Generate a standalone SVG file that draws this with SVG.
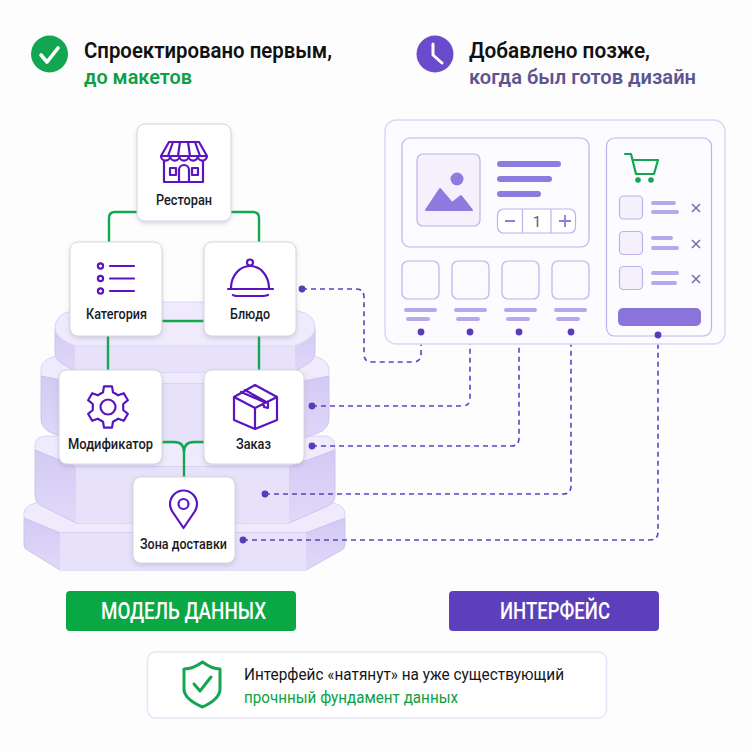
<svg xmlns="http://www.w3.org/2000/svg" width="751" height="751" viewBox="0 0 751 751">
<style>
text{font-family:"Roboto","Liberation Sans",sans-serif}
.card{fill:#fff;stroke:#d6d5dc;stroke-width:1;filter:url(#sh)}
.lbl{font-size:15px;font-weight:500;fill:#1a1a1f}
.ic{fill:none;stroke:#5a14c0;stroke-width:2.2;stroke-linejoin:round;stroke-linecap:round}
.gl{fill:none;stroke:#11a850;stroke-width:2.4}
.dl{fill:none;stroke:#5f3fc4;stroke-width:1.6;stroke-dasharray:5 4}
.dot{fill:#5a3ab8}
.top{fill:#efebfc;stroke:#dbd5f5;stroke-width:1}
.front{fill:#e7e2fa}
.side{fill:url(#sd);stroke:#cdc4f1;stroke-width:1}
.ui{fill:#fbfafe;stroke:#bdb2ec;stroke-width:1.200}
.bar{fill:#8f7be0}
.bar2{fill:#b5a8ec}
.x{fill:none;stroke:#7a70a8;stroke-width:1.600}
</style>
<defs>
<filter id="sh" x="-20%" y="-20%" width="140%" height="140%"><feDropShadow dx="0" dy="2" stdDeviation="2" flood-color="#7a70a8" flood-opacity=".28"/></filter>
<linearGradient id="sd" x1="0" y1="0" x2="0" y2="1"><stop offset="0" stop-color="#d3caf4"/><stop offset="1" stop-color="#e0d9f8"/></linearGradient>
</defs>
<rect width="751" height="751" fill="#fdfdfe"/>

<g id="stack">
<path class="top" d="M24 513 Q24 508 30 505 L60 494 H310 L339 505 Q345 508 345 513 V518 L306 533 H60 L24 518Z"/>
<path class="side" d="M24 518 L60 533 H306 L345 518 V545 Q345 549 340 551 L306 570 H60 L29 551 Q24 549 24 545Z"/>
<rect class="front" x="60" y="533" width="246" height="37"/>
<path class="top" d="M35 450 V445 Q35 438 44 436 H326 Q335 438 335 445 V450 L289 467 H76Z"/>
<path class="side" d="M35 450 L76 467 H289 L335 450 V495 Q335 503 328 506 L289 523 H76 L42 506 Q35 503 35 495Z"/>
<rect class="front" x="76" y="467" width="213" height="56"/>
<path class="top" d="M41 376 V370 Q41 362 50 358 L62 354 H308 L320 358 Q329 362 329 370 V376 L290 384 H80Z"/>
<path class="side" d="M41 376 L80 384 H290 L329 376 V418 Q329 429 318 433 L290 443 H80 L52 433 Q41 429 41 418Z"/>
<rect class="front" x="80" y="384" width="210" height="59"/>
<path class="side" d="M55 328 V352 Q55 360 63 364 L76 372 H294 L307 364 Q315 360 315 352 V328Z"/>
<rect class="front" x="75" y="346" width="220" height="26"/>
<path class="top" d="M55 328 Q55 314 72 311 L92 302 H278 L298 311 Q315 314 315 328 Q315 338 295 346 H75 Q55 338 55 328Z"/>
</g>

<g id="connectors">
<path class="gl" d="M137 212 H115 Q109 212 109 218 V242"/>
<path class="gl" d="M231 212 H253 Q259 212 259 218 V242"/>
<path class="gl" d="M162 321 H204"/>
<path class="gl" d="M108 336 V370"/>
<path class="gl" d="M259 336 V370"/>
<path class="gl" d="M162 442 H174 Q184 442 184 452 V477"/>
<path class="gl" d="M204 442 H194 Q184 442 184 452"/>
<path class="dl" d="M302 289 H356 Q364 289 364 297 V354 Q364 362 372 362 H413 Q421 362 421 354 V332"/>
<path class="dl" d="M312 406 H462 Q470 406 470 398 V332"/>
<path class="dl" d="M312 446 H511 Q519 446 519 438 V332"/>
<path class="dl" d="M265 494 H563 Q571 494 571 486 V332"/>
<path class="dl" d="M243 540 H650 Q658 540 658 532 V335"/>
<circle class="dot" cx="302" cy="289" r="3.400"/>
<circle class="dot" cx="312" cy="406" r="3.400"/>
<circle class="dot" cx="312" cy="446" r="3.400"/>
<circle class="dot" cx="265" cy="494" r="3.400"/>
<circle class="dot" cx="243" cy="540" r="3.400"/>
</g>

<g id="legend-model">
<circle cx="49.500" cy="54" r="18.500" fill="#12a651"/>
<path d="M41 55 L47 62 L58 48" fill="none" stroke="#fff" stroke-width="3.600" stroke-linecap="round" stroke-linejoin="round"/>
<text x="84" y="58" font-size="22" font-weight="600" fill="#111" textLength="248" lengthAdjust="spacingAndGlyphs">Спроектировано первым,</text>
<text x="84" y="84" font-size="21" font-weight="600" fill="#0ca043" textLength="108" lengthAdjust="spacingAndGlyphs">до макетов</text>
</g>
<g id="legend-ui">
<circle cx="435" cy="54" r="18.500" fill="#6a4bcb"/>
<path d="M433 44 V55 L442 63" fill="none" stroke="#fff" stroke-width="3" stroke-linecap="round" stroke-linejoin="round"/>
<text x="469" y="58" font-size="22" font-weight="600" fill="#111" textLength="181" lengthAdjust="spacingAndGlyphs">Добавлено позже,</text>
<text x="469" y="84" font-size="21" font-weight="600" fill="#5e5590" textLength="227" lengthAdjust="spacingAndGlyphs">когда был готов дизайн</text>
</g>

<g id="node-restaurant">
<rect class="card" x="137" y="124" width="94" height="97" rx="8"/>
<path class="ic" d="M169 142 H199 L207 156 H161Z M173 142 L168 156 M180 142 L178 156 M188 142 L190 156 M195 142 L200 156 M161 156 a4.600 4.600 0 0 0 9.200 0 a4.600 4.600 0 0 0 9.200 0 a4.600 4.600 0 0 0 9.200 0 a4.600 4.600 0 0 0 9.200 0 a4.600 4.600 0 0 0 9.200 0"/>
<path class="ic" d="M164 161 V182 H203 V161 M179 182 V170 a5 5 0 0 1 10 0 V182"/>
<rect class="ic" x="170" y="168" width="6" height="7"/><rect class="ic" x="192" y="168" width="6" height="7"/>
<text class="lbl" x="156" y="205" textLength="56" lengthAdjust="spacingAndGlyphs">Ресторан</text>
</g>
<g id="node-category">
<rect class="card" x="70" y="242" width="92" height="94" rx="8"/>
<circle class="ic" cx="100.500" cy="266" r="2.600"/><circle class="ic" cx="100.500" cy="278.500" r="2.600"/><circle class="ic" cx="100.500" cy="291" r="2.600"/>
<path class="ic" d="M110 266 H134 M110 278.500 H134 M110 291 H134"/>
<text class="lbl" x="86" y="319" textLength="61" lengthAdjust="spacingAndGlyphs">Категория</text>
</g>
<g id="node-dish">
<rect class="card" x="204" y="242" width="92" height="94" rx="8"/>
<circle class="ic" cx="250" cy="262.500" r="3"/>
<path class="ic" d="M231 288 a19 22 0 0 1 38 0 M228 289 H273 M233 295 Q234 296 238 296 H262 Q266 296 268 295"/>
<text class="lbl" x="230" y="319" textLength="40" lengthAdjust="spacingAndGlyphs">Блюдо</text>
</g>
<g id="node-modifier">
<rect class="card" x="59" y="370" width="103" height="94" rx="8"/>
<circle class="ic" cx="108" cy="407" r="7.500"/>
<path class="ic" d="M104 386.400 L112 386.400 L113 392.300 L118.200 395.300 L123.800 393.200 L127.900 400.200 L123.200 404 L123.200 410 L127.900 413.800 L123.800 420.800 L118.200 418.700 L113 421.700 L112 427.600 L104 427.600 L103 421.700 L97.800 418.700 L92.200 420.800 L88.100 413.800 L92.800 410 L92.800 404 L88.100 400.200 L92.200 393.200 L97.800 395.300 L103 392.300Z"/>
<text class="lbl" x="68" y="449" textLength="85" lengthAdjust="spacingAndGlyphs">Модификатор</text>
</g>
<g id="node-order">
<rect class="card" x="204" y="370" width="100" height="94" rx="8"/>
<path class="ic" d="M255 385 L277 397 V420 L255 429 L234 420 V397Z M234 397 L255 408 L277 397 M255 408 V429 M245 390 L268 403 V408 L264 407 V402 L241 392"/>
<text class="lbl" x="236" y="449" textLength="35" lengthAdjust="spacingAndGlyphs">Заказ</text>
</g>
<g id="node-zone">
<rect class="card" x="133" y="477" width="102" height="86" rx="8"/>
<circle class="ic" cx="183.500" cy="504" r="5"/>
<path class="ic" d="M183.500 528 L174 514 Q170 509 170 504 a13.500 13.500 0 0 1 27 0 Q197 509 193 514Z"/>
<text class="lbl" x="140" y="549" textLength="87" lengthAdjust="spacingAndGlyphs">Зона доставки</text>
</g>

<g id="interface">
<rect x="385" y="120" width="340" height="224" rx="11" fill="#fcfbff" stroke="#dcd6f6" stroke-width="1.500"/>
<rect class="ui" x="402" y="138" width="187" height="109" rx="8" style="fill:#fcfbff"/>
<rect class="ui" x="417" y="154" width="63" height="72" rx="6" style="fill:#f4f1fd"/>
<circle cx="457" cy="179" r="6.500" fill="#8f7be0"/>
<path d="M426 210 L440 189 L452 203 L461 196 L472 210 Z" fill="#8f7be0" stroke="#8f7be0" stroke-width="2" stroke-linejoin="round"/>
<rect class="bar" x="497" y="161" width="64" height="6" rx="3"/>
<rect class="bar" x="497" y="176" width="55" height="6" rx="3"/>
<rect class="bar" x="497" y="191" width="44" height="6" rx="3"/>
<rect class="ui" x="497.500" y="209" width="78" height="24" rx="6" style="fill:#fff"/>
<path d="M522.500 209 V233 M551 209 V233" stroke="#bdb2ec" stroke-width="1.200"/>
<path d="M505 221 H515 M559 221 H571 M565 215 V227" stroke="#8f7be0" stroke-width="1.800" fill="none"/>
<text x="537" y="227" font-size="15" fill="#5e5590" text-anchor="middle">1</text>
<rect class="ui" x="402" y="261" width="37" height="38" rx="6"/>
<rect class="ui" x="452" y="261" width="37" height="38" rx="6"/>
<rect class="ui" x="502" y="261" width="37" height="38" rx="6"/>
<rect class="ui" x="552" y="261" width="37" height="38" rx="6"/>
<rect class="bar2" x="404" y="308" width="33" height="4" rx="2"/><rect class="bar2" x="406" y="317" width="24" height="4" rx="2"/>
<rect class="bar2" x="454" y="308" width="33" height="4" rx="2"/><rect class="bar2" x="456" y="317" width="24" height="4" rx="2"/>
<rect class="bar2" x="504" y="308" width="33" height="4" rx="2"/><rect class="bar2" x="506" y="317" width="24" height="4" rx="2"/>
<rect class="bar2" x="554" y="308" width="33" height="4" rx="2"/><rect class="bar2" x="556" y="317" width="24" height="4" rx="2"/>
<rect class="ui" x="606.500" y="138" width="105" height="198" rx="8" style="fill:#fcfbff"/>
<path d="M625 154 H631 L636 174 H654 L658 160 H633" fill="none" stroke="#12a651" stroke-width="2.200" stroke-linejoin="round" stroke-linecap="round"/>
<circle cx="638" cy="180" r="2.800" fill="#12a651"/><circle cx="651" cy="180" r="2.800" fill="#12a651"/>
<rect class="ui" x="619.500" y="196" width="23" height="23" rx="4" style="fill:#f4f1fd"/>
<rect class="ui" x="619.500" y="231.500" width="23" height="23" rx="4" style="fill:#f4f1fd"/>
<rect class="ui" x="619.500" y="266.500" width="23" height="23" rx="4" style="fill:#f4f1fd"/>
<rect class="bar2" x="651" y="201" width="25" height="4" rx="2"/><rect class="bar2" x="651" y="210" width="28" height="4" rx="2"/>
<rect class="bar2" x="651" y="236" width="22" height="4" rx="2"/><rect class="bar2" x="651" y="246" width="28" height="4" rx="2"/>
<rect class="bar2" x="651" y="271" width="28" height="4" rx="2"/><rect class="bar2" x="651" y="281" width="26" height="4" rx="2"/>
<path class="x" d="M692 204 L700 212 M700 204 L692 212 M692 240 L700 248 M700 240 L692 248 M692 275 L700 283 M700 275 L692 283"/>
<rect x="618" y="308" width="83" height="18" rx="5" fill="#8a74dc"/>
<circle class="dot" cx="421" cy="332" r="3.400"/><circle class="dot" cx="470" cy="332" r="3.400"/><circle class="dot" cx="519" cy="332" r="3.400"/><circle class="dot" cx="571" cy="332" r="3.400"/><circle class="dot" cx="658" cy="335" r="3.400"/>
</g>

<g id="btn-model">
<rect x="66" y="591" width="230" height="40" rx="4" fill="#0aa845"/>
<text x="101" y="619" font-size="23" font-weight="500" fill="#fff" textLength="165" lengthAdjust="spacingAndGlyphs">МОДЕЛЬ ДАННЫХ</text>
</g>
<g id="btn-ui">
<rect x="449" y="591" width="210" height="40" rx="4" fill="#5e3fbb"/>
<text x="500" y="619" font-size="23" font-weight="500" fill="#fff" textLength="110" lengthAdjust="spacingAndGlyphs">ИНТЕРФЕЙС</text>
</g>
<g id="note">
<rect x="147.500" y="652" width="459" height="66" rx="8" fill="#fff" stroke="#e8e5f6" stroke-width="1.500"/>
<path d="M202.500 662 Q212 669 220 669 V689 Q220 699 202.500 707 Q184 699 184 689 V669 Q193 669 202.500 662Z" fill="none" stroke="#12a651" stroke-width="3" stroke-linejoin="round"/>
<path d="M194 684 L200 691 L211 677" fill="none" stroke="#12a651" stroke-width="3" stroke-linecap="round" stroke-linejoin="round"/>
<text x="244" y="680" font-size="16.500" fill="#15151a" textLength="320" lengthAdjust="spacingAndGlyphs">Интерфейс «натянут» на уже существующий</text>
<text x="244" y="703" font-size="16.500" fill="#0ca043" textLength="214" lengthAdjust="spacingAndGlyphs">прочнный фундамент данных</text>
</g>
</svg>
